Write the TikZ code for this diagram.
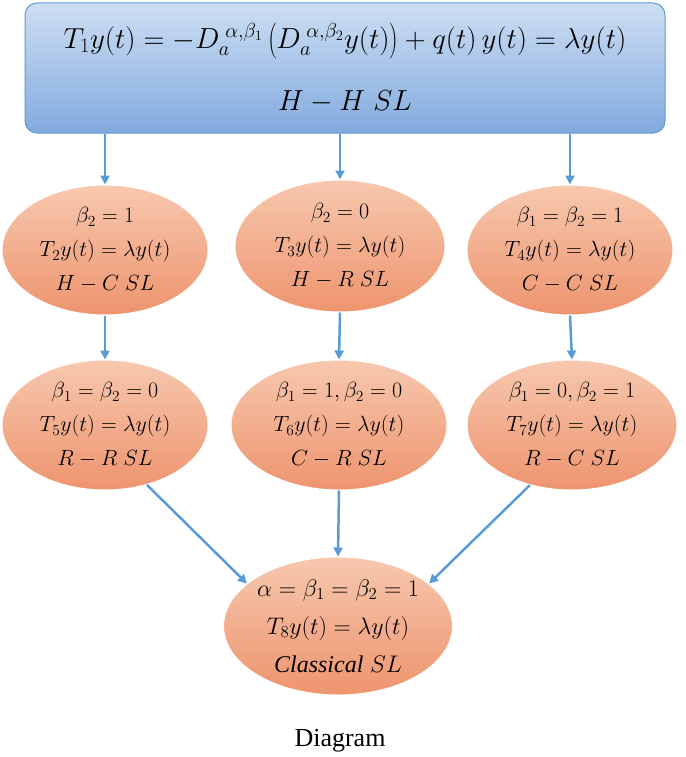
\RequirePackage{fix-cm}
\documentclass[tikz,border=0pt]{standalone}
\usepackage{anyfontsize}
\usepackage{fontspec}
\setmainfont{Liberation Serif}
\usetikzlibrary{arrows.meta,shapes.geometric}
\definecolor{ell1}{RGB}{247,200,175}
\definecolor{ell2}{RGB}{238,148,110}
\definecolor{arrc}{RGB}{91,155,213}
\begin{document}
\begin{tikzpicture}[x=1pt,y=-1pt,
  ell/.style={ellipse,draw=white,line width=1pt,top color=ell1,bottom color=ell2,
    minimum width=206pt,minimum height=130pt,align=center,font=\fontsize{22}{34}\selectfont,inner sep=0pt},
  arr/.style={draw=arrc,line width=2.5pt,-{Triangle[length=9pt,width=9pt]}}]
\useasboundingbox (0,0) rectangle (685,757);
\node[draw=arrc,rounded corners=12pt,line width=1pt,
  top color={rgb,255:red,205;green,222;blue,243},bottom color={rgb,255:red,130;green,170;blue,222},
  minimum width=640pt,minimum height=130pt,align=center,font=\fontsize{29}{62}\selectfont] (top) at (345,68)
  {$T_1y(t)=-D_a^{\;\alpha,\beta_1}\left(D_a^{\;\alpha,\beta_2}y(t)\right)+q(t)\,y(t)=\lambda y(t)$\\ $H-H\;SL$};
\node[ell] (a) at (105,250) {$\beta_2=1$\\ $T_2y(t)=\lambda y(t)$\\ $H-C\;SL$};
\node[ell,minimum width=210pt,minimum height=132pt] (b) at (340,246) {$\beta_2=0$\\ $T_3y(t)=\lambda y(t)$\\ $H-R\;SL$};
\node[ell] (c) at (570,250) {$\beta_1=\beta_2=1$\\ $T_4y(t)=\lambda y(t)$\\ $C-C\;SL$};
\node[ell] (d) at (105,425) {$\beta_1=\beta_2=0$\\ $T_5y(t)=\lambda y(t)$\\ $R-R\;SL$};
\node[ell,minimum width=216pt] (e) at (339,425) {$\beta_1=1,\beta_2=0$\\ $T_6y(t)=\lambda y(t)$\\ $C-R\;SL$};
\node[ell,minimum width=210pt] (f) at (572,425) {$\beta_1=0,\beta_2=1$\\ $T_7y(t)=\lambda y(t)$\\ $R-C\;SL$};
\node[ell,minimum width=215pt,minimum height=138pt,font=\fontsize{24}{38}\selectfont] (g) at (338,626) {$\alpha=\beta_1=\beta_2=1$\\ $T_8y(t)=\lambda y(t)$\\ \textit{Classical}\;$SL$};
\node[font=\fontsize{26}{28}\selectfont] (cap) at (340,741) {Diagram};
\draw[arr] (top.south -| a) -- (a.north);
\draw[arr] (top.south -| b) -- (b.north);
\draw[arr] (top.south -| c) -- (c.north);
\draw[arr] (a.south) -- (d.north);
\draw[arr] (b.south) -- (e.north);
\draw[arr] (c.south) -- (f.north);
\draw[arr] (d.-55) -- (g.155);
\draw[arr] (e.south) -- (g.north);
\draw[arr] (f.-125) -- (g.25);
\end{tikzpicture}
\end{document}
